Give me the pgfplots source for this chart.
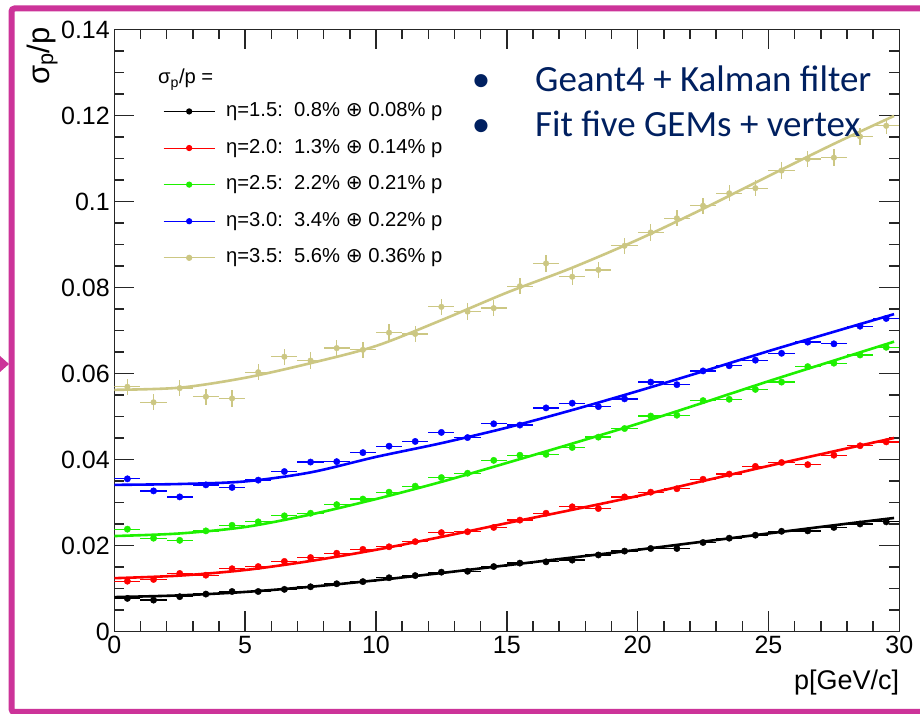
\documentclass[border=0pt]{standalone}
\usepackage{fontspec}
\setmainfont{Liberation Sans}
\newfontfamily\carlito{Carlito}
\newfontfamily\dejavu{DejaVu Sans}
\usepackage{pgfplots}
\usepackage{pgfplotstable}
\pgfplotsset{compat=1.18}

\definecolor{rootred}{RGB}{255,0,0}
\definecolor{rootgreen}{RGB}{30,240,0}
\definecolor{rootblue}{RGB}{0,0,255}
\definecolor{roottan}{RGB}{204,199,131}
\definecolor{navy}{RGB}{0,32,96}
\definecolor{slidemag}{RGB}{204,51,153}

% measured points (p, sigma_p/p)
\pgfplotstableread{
p s
0.5 0.0077
1.5 0.0073
2.5 0.0081
3.5 0.0087
4.5 0.0093
5.5 0.0093
6.5 0.0098
7.5 0.0104
8.5 0.0111
9.5 0.0116
10.5 0.0125
11.5 0.0130
12.5 0.0138
13.5 0.0140
14.5 0.0151
15.5 0.0159
16.5 0.0162
17.5 0.0166
18.5 0.0178
19.5 0.0187
20.5 0.0193
21.5 0.0193
22.5 0.0207
23.5 0.0217
24.5 0.0224
25.5 0.0233
26.5 0.0234
27.5 0.0242
28.5 0.0250
29.5 0.0255
}\datablack
\pgfplotstableread{
p s
0.5 0.0117
1.5 0.0121
2.5 0.0135
3.5 0.0131
4.5 0.0146
5.5 0.0151
6.5 0.0163
7.5 0.0172
8.5 0.0182
9.5 0.0191
10.5 0.0197
11.5 0.0209
12.5 0.0230
13.5 0.0232
14.5 0.0242
15.5 0.0259
16.5 0.0275
17.5 0.0290
18.5 0.0286
19.5 0.0313
20.5 0.0324
21.5 0.0332
22.5 0.0354
23.5 0.0366
24.5 0.0384
25.5 0.0393
26.5 0.0388
27.5 0.0410
28.5 0.0432
29.5 0.0441
}\datared
\pgfplotstableread{
p s
0.5 0.0238
1.5 0.0217
2.5 0.0212
3.5 0.0234
4.5 0.0247
5.5 0.0255
6.5 0.0269
7.5 0.0275
8.5 0.0295
9.5 0.0308
10.5 0.0324
11.5 0.0338
12.5 0.0358
13.5 0.0368
14.5 0.0398
15.5 0.0410
16.5 0.0412
17.5 0.0428
18.5 0.0452
19.5 0.0472
20.5 0.0501
21.5 0.0503
22.5 0.0537
23.5 0.0540
24.5 0.0563
25.5 0.0580
26.5 0.0616
27.5 0.0624
28.5 0.0643
29.5 0.0661
}\datagreen
\pgfplotstableread{
p s
0.5 0.0355
1.5 0.0327
2.5 0.0313
3.5 0.0341
4.5 0.0335
5.5 0.0352
6.5 0.0372
7.5 0.0394
8.5 0.0395
9.5 0.0416
10.5 0.0431
11.5 0.0442
12.5 0.0463
13.5 0.0451
14.5 0.0483
15.5 0.0480
16.5 0.0520
17.5 0.0531
18.5 0.0523
19.5 0.0541
20.5 0.0580
21.5 0.0574
22.5 0.0606
23.5 0.0618
24.5 0.0631
25.5 0.0647
26.5 0.0673
27.5 0.0669
28.5 0.0710
29.5 0.0728
}\datablue
\pgfplotstableread{
p s
0.5 0.0569
1.5 0.0533
2.5 0.0566
3.5 0.0546
4.5 0.0542
5.5 0.0603
6.5 0.0639
7.5 0.0630
8.5 0.0659
9.5 0.0655
10.5 0.0695
11.5 0.0692
12.5 0.0755
13.5 0.0744
14.5 0.0752
15.5 0.0803
16.5 0.0856
17.5 0.0825
18.5 0.0841
19.5 0.0897
20.5 0.0928
21.5 0.0961
22.5 0.0990
23.5 0.1019
24.5 0.1031
25.5 0.1072
26.5 0.1099
27.5 0.1102
28.5 0.1151
29.5 0.1176
}\datatan

\begin{document}
\begin{tikzpicture}[x=1pt,y=1pt]
\path[use as bounding box, fill=white] (0,0) rectangle (920,714);

\begin{axis}[
  at={(114.3pt,82.5pt)}, anchor=south west,
  scale only axis, width=785pt, height=602pt,
  xmin=0, xmax=30, ymin=0, ymax=0.14,
  xtick={0,5,10,15,20,25,30},
  ytick={0,0.02,0.04,0.06,0.08,0.1,0.12,0.14},
  yticklabels={0,0.02,0.04,0.06,0.08,0.1,0.12,0.14},
  minor x tick num=4, minor y tick num=3,
  scaled y ticks=false,
  tick align=inside,
  major tick length=20pt, minor tick length=10pt,
  every tick/.style={black!85, line width=1.4pt},
  axis line style={black!85, line width=1.6pt},
  tick label style={font=\fontsize{25}{29}\selectfont, /pgf/number format/assume math mode=true},
  xticklabel style={yshift=-1pt},
  yticklabel style={xshift=-1pt},
  xlabel={p[GeV/c]},
  xlabel style={at={(rel axis cs:1,-0.084)}, anchor=east, inner sep=0pt, font=\fontsize{27}{31}\selectfont},
  ylabel={σ\textsubscript{p}/p},
  ylabel style={at={(rel axis cs:-0.072,1.004)}, anchor=south east, inner sep=0pt, font=\fontsize{31}{35}\selectfont},
  legend style={draw=none, fill=none, at={(rel axis cs:0.062,0.880)}, anchor=north west,
    font=\fontsize{20.2}{24}\selectfont, inner sep=0pt, row sep=17.6pt, column sep=11pt,
    nodes={inner sep=0pt, text height=14.5pt, text depth=4.5pt}},
  legend cell align=left,
  legend image code/.code={\draw[mark repeat=2,mark phase=2,#1] plot coordinates {(0pt,0pt) (25.5pt,0pt) (51pt,0pt)};},
  clip=true,
]
\addlegendimage{black, line width=1pt, mark=*, mark size=2.6pt, mark options={solid}}
\addlegendentry{η=1.5:\ \ 0.8\% {\dejavu ⊕} 0.08\% p}
\addlegendimage{rootred, line width=1pt, mark=*, mark size=2.6pt}
\addlegendentry{η=2.0:\ \ 1.3\% {\dejavu ⊕} 0.14\% p}
\addlegendimage{rootgreen, line width=1pt, mark=*, mark size=2.6pt}
\addlegendentry{η=2.5:\ \ 2.2\% {\dejavu ⊕} 0.21\% p}
\addlegendimage{rootblue, line width=1pt, mark=*, mark size=2.6pt}
\addlegendentry{η=3.0:\ \ 3.4\% {\dejavu ⊕} 0.22\% p}
\addlegendimage{roottan, line width=1pt, mark=*, mark size=2.6pt}
\addlegendentry{η=3.5:\ \ 5.6\% {\dejavu ⊕} 0.36\% p}

% data points
\addplot[forget plot, only marks, mark=*, mark size=2.8pt, color=roottan,
  error bars/.cd, x dir=both, x fixed=0.5, y dir=both, y fixed=0.0019, error mark=none,
  error bar style={line width=1.3pt, roottan}] table[x=p,y=s] {\datatan};
\addplot[forget plot, only marks, mark=*, mark size=3.2pt, color=rootblue,
  error bars/.cd, x dir=both, x fixed=0.5, y dir=both, y fixed=0.0006, error mark=none,
  error bar style={line width=1.3pt, rootblue}] table[x=p,y=s] {\datablue};
\addplot[forget plot, only marks, mark=*, mark size=3.2pt, color=rootgreen,
  error bars/.cd, x dir=both, x fixed=0.5, y dir=both, y fixed=0.0005, error mark=none,
  error bar style={line width=1.3pt, rootgreen}] table[x=p,y=s] {\datagreen};
\addplot[forget plot, only marks, mark=*, mark size=3.2pt, color=rootred,
  error bars/.cd, x dir=both, x fixed=0.5, y dir=both, y fixed=0.0004, error mark=none,
  error bar style={line width=1.3pt, rootred}] table[x=p,y=s] {\datared};
\addplot[forget plot, only marks, mark=*, mark size=3.2pt, color=black,
  error bars/.cd, x dir=both, x fixed=0.5, y dir=both, y fixed=0.0003, error mark=none,
  error bar style={line width=1.3pt, black}] table[x=p,y=s] {\datablack};

% fitted curves (digitised)
\addplot[forget plot, smooth, line width=2.6pt, color=roottan] coordinates {
(0,0.0562) (2.5,0.0567) (5,0.0590) (7.5,0.0624) (10,0.0664) (12.5,0.0724) (15,0.0788)
(17.5,0.0846) (20,0.0911) (22.5,0.0983) (25,0.1059) (27.5,0.1134) (29.8,0.1199)};
\addplot[forget plot, smooth, line width=2.6pt, color=rootblue] coordinates {
(0,0.0341) (2.5,0.0343) (5,0.0349) (7.5,0.0370) (10,0.0406) (12.5,0.0438) (15,0.0474)
(17.5,0.0515) (20,0.0559) (22.5,0.0605) (25,0.0652) (27.5,0.0697) (29.8,0.0738)};
\addplot[forget plot, smooth, line width=2.6pt, color=rootgreen] coordinates {
(0,0.0222) (2.5,0.0228) (5,0.0243) (7.5,0.0272) (10,0.0308) (12.5,0.0348) (15,0.0392)
(17.5,0.0437) (20,0.0483) (22.5,0.0532) (25,0.0582) (27.5,0.0630) (29.8,0.0674)};
\addplot[forget plot, smooth, line width=2.6pt, color=rootred] coordinates {
(0,0.0124) (2.5,0.0130) (5,0.0143) (7.5,0.0164) (10,0.0190) (12.5,0.0220) (15,0.0252)
(17.5,0.0283) (20,0.0315) (22.5,0.0350) (25,0.0385) (27.5,0.0419) (29.8,0.0450)};
\addplot[forget plot, smooth, line width=2.6pt, color=black] coordinates {
(0,0.0080) (2.5,0.0084) (5,0.0092) (7.5,0.0104) (10,0.0119) (12.5,0.0136) (15,0.0154)
(17.5,0.0172) (20,0.0190) (22.5,0.0209) (25,0.0228) (27.5,0.0247) (29.8,0.0264)};
\end{axis}

% legend header
\node[anchor=base west, font=\fontsize{20.2}{24}\selectfont, inner sep=0pt] at (158,714-84) {σ\textsubscript{p}/p =};

% slide annotations
\node[anchor=base, font=\carlito\fontsize{37}{42}\selectfont, text=navy, inner sep=0pt] at (481,714-92) {•};
\node[anchor=base, font=\carlito\fontsize{37}{42}\selectfont, text=navy, inner sep=0pt] at (481,714-137) {•};
\node[anchor=base west, font=\carlito\fontsize{37}{42}\selectfont, text=navy, inner sep=0pt] at (535,714-92) {Geant4 + Kalman filter};
\node[anchor=base west, font=\carlito\fontsize{37}{42}\selectfont, text=navy, inner sep=0pt] at (535,714-137) {Fit five GEMs + vertex};

% slide frame
\draw[slidemag, line width=6pt, rounded corners=3pt] (920,714-8.5) -- (11.5,714-8.5) -- (11.5,2) -- (920,2);
\fill[slidemag] (0,714-356) -- (9,714-364) -- (0,714-372) -- cycle;
\end{tikzpicture}
\end{document}
